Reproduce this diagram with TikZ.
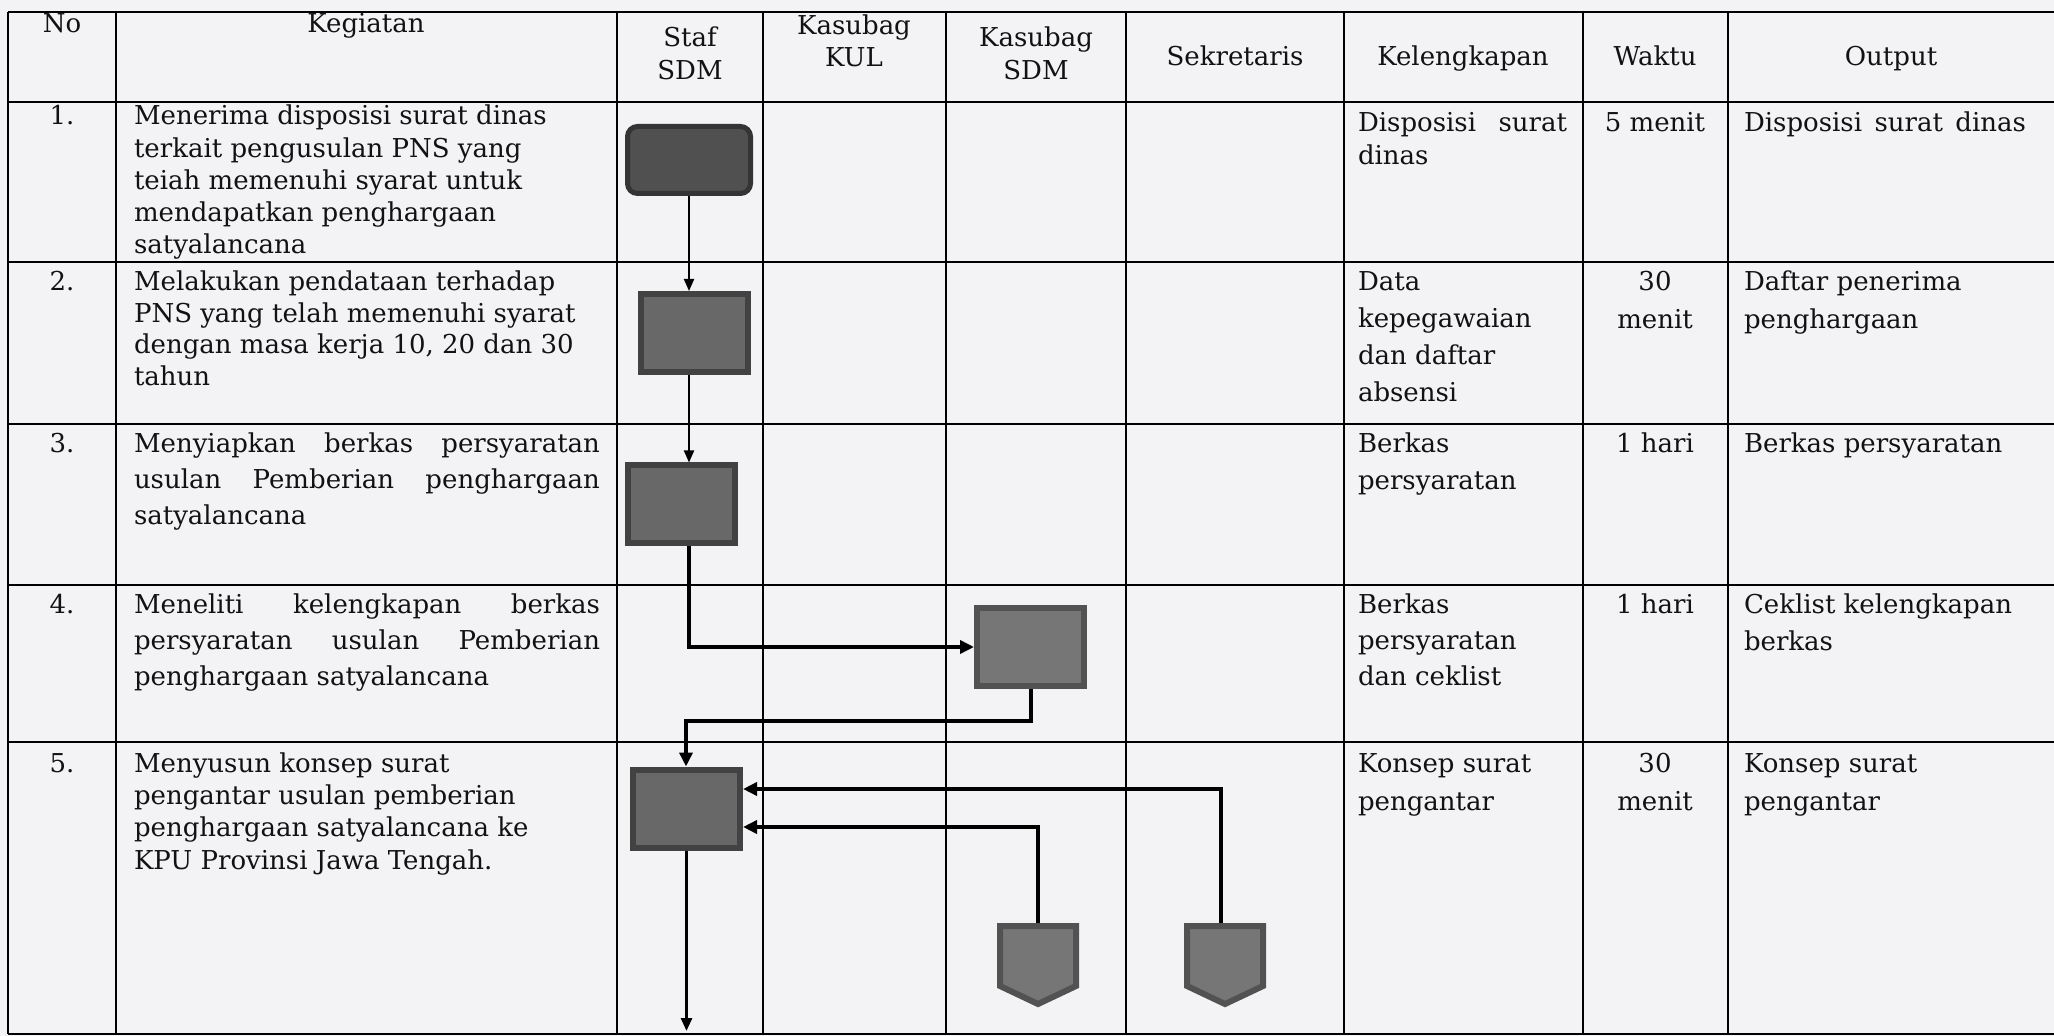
\documentclass[tikz,border=0pt]{standalone}
\usepackage{fontspec}
\setmainfont{DejaVu Serif}
\usetikzlibrary{arrows.meta}
\definecolor{bgcol}{RGB}{243,243,246}
\definecolor{ink}{RGB}{18,18,18}
\definecolor{boxfill}{RGB}{104,104,104}
\definecolor{boxedge}{RGB}{66,66,66}
\definecolor{startfill}{RGB}{80,80,80}
\definecolor{startedge}{RGB}{52,52,52}
\definecolor{lightfill}{RGB}{118,118,118}
\definecolor{lightedge}{RGB}{82,82,82}
\newcommand{\fs}[1]{\fontsize{13pt}{#1}\selectfont}
\newcommand{\st}{\rule{0pt}{12pt}}
\newcommand{\jl}[2]{\makebox[#1][s]{#2}}
\begin{document}
\begin{tikzpicture}[x=0.5pt,y=-0.5pt,text=ink,
  cellL/.style={anchor=north west,inner sep=0pt,outer sep=0pt,align=left,font=\fs{#1}},
  cellC/.style={anchor=north,inner sep=0pt,outer sep=0pt,align=center,font=\fs{#1}},
  vline/.style={line width=0.8pt,draw=black},
  hline/.style={line width=1.1pt,draw=black},
  procbox/.style={draw=boxedge,fill=boxfill,line width=3pt,minimum width=53.5pt,minimum height=39pt,inner sep=0pt},
  lightbox/.style={procbox,draw=lightedge,fill=lightfill},
  startbox/.style={draw=startedge,fill=startfill,line width=2.5pt,rounded corners=5pt,minimum width=61.5pt,minimum height=33.5pt,inner sep=0pt},
  pentnode/.style={minimum width=38pt,minimum height=39pt,inner sep=0pt,outer sep=0pt},
  pentshape/.style={fill=lightfill,draw=lightedge,line width=3pt,line join=miter},
  flow/.style={line width=2pt,-{Triangle[length=7pt,width=6.5pt]}},
  thinflow/.style={line width=1pt,-{Triangle[length=6pt,width=5pt]}},
  midflow/.style={line width=1.4pt,-{Triangle[length=6.5pt,width=5.5pt]}}
]
\fill[bgcol] (0,0) rectangle (2054,1036);
\useasboundingbox (0,0) rectangle (2054,1036);

% table grid
\foreach \xx in {8,116,617,763,946,1126,1344,1583,1728}
  \draw[vline] (\xx,12) -- (\xx,1034);
\foreach \yy in {12,102,262,424,585,742,1034}
  \draw[hline] (8,\yy) -- (2054,\yy);

% header
\node[cellC=16pt] (hNo) at (62,9) {\st No};
\node[cellC=16pt] (hKeg) at (366,9) {\st Kegiatan};
\node[cellC=16.5pt] (hStaf) at (690,23) {\st Staf\\SDM};
\node[cellC=16pt] (hKul) at (854,11) {\st Kasubag\\KUL};
\node[cellC=16.5pt] (hKsdm) at (1036,23) {\st Kasubag\\SDM};
\node[cellC=16pt] (hSek) at (1235,42) {\st Sekretaris};
\node[cellC=16pt] (hKel) at (1463,42) {\st Kelengkapan};
\node[cellC=16pt] (hWak) at (1655,42) {\st Waktu};
\node[cellC=16pt] (hOut) at (1891,42) {\st Output};

% row 1
\node[cellC=16pt] (n1) at (62,101) {\st 1.};
\node[cellL=16.1pt] (k1) at (134,101) {\st Menerima disposisi surat dinas\\terkait pengusulan PNS yang\\teiah memenuhi syarat untuk\\mendapatkan penghargaan\\satyalancana};
\node[cellL=16.5pt] (l1) at (1358,108) {\st\jl{104.5pt}{Disposisi surat}\\dinas};
\node[cellC=16pt] (w1) at (1655,108) {\st 5 menit};
\node[cellL=16pt] (o1) at (1744,108) {\st\jl{141pt}{Disposisi surat dinas}};

% row 2
\node[cellC=16pt] (n2) at (62,267) {\st 2.};
\node[cellL=15.7pt] (k2) at (134,267) {\st Melakukan pendataan terhadap\\PNS yang telah memenuhi syarat\\dengan masa kerja 10, 20 dan 30\\tahun};
\node[cellL=18.5pt] (l2) at (1358,267) {\st Data\\kepegawaian\\dan daftar\\absensi};
\node[cellC=19pt] (w2) at (1655,267) {\st 30\\menit};
\node[cellL=19pt] (o2) at (1744,267) {\st Daftar penerima\\penghargaan};

% row 3
\node[cellC=16pt] (n3) at (62,429) {\st 3.};
\node[cellL=18pt] (k3) at (134,429) {\st\jl{233pt}{Menyiapkan berkas persyaratan}\\\jl{233pt}{usulan Pemberian penghargaan}\\satyalancana};
\node[cellL=18.5pt] (l3) at (1358,429) {\st Berkas\\persyaratan};
\node[cellC=16pt] (w3) at (1655,429) {\st 1 hari};
\node[cellL=16pt] (o3) at (1744,429) {\st Berkas persyaratan};

% row 4
\node[cellC=16pt] (n4) at (62,589) {\st 4.};
\node[cellL=18pt] (k4) at (134,589) {\st\jl{233pt}{Meneliti kelengkapan berkas}\\\jl{233pt}{persyaratan usulan Pemberian}\\penghargaan satyalancana};
\node[cellL=18pt] (l4) at (1358,589) {\st Berkas\\persyaratan\\dan ceklist};
\node[cellC=16pt] (w4) at (1655,589) {\st 1 hari};
\node[cellL=18.5pt] (o4) at (1744,589) {\st Ceklist kelengkapan\\berkas};

% row 5
\node[cellC=16pt] (n5) at (62,748) {\st 5.};
\node[cellL=16.2pt] (k5) at (134,748) {\st Menyusun konsep surat\\pengantar usulan pemberian\\penghargaan satyalancana ke\\KPU Provinsi Jawa Tengah.};
\node[cellL=19pt] (l5) at (1358,748) {\st Konsep surat\\pengantar};
\node[cellC=19pt] (w5) at (1655,748) {\st 30\\menit};
\node[cellL=19pt] (o5) at (1744,748) {\st Konsep surat\\pengantar};

% flow symbols
\node[startbox] (b1) at (689,160) {};
\node[procbox] (b2) at (694.5,333) {};
\node[procbox] (b3) at (681.5,504.5) {};
\node[lightbox] (b4) at (1030.5,647) {};
\node[procbox] (b5) at (686.5,808.5) {};
\node[pentnode] (p1) at (1038,965) {};
\node[pentnode] (p2) at (1225,965) {};
\coordinate (j45) at (686,721);
\coordinate (endpt) at (686,1031);

% connectors
\draw[thinflow] (b1.south) -- (b1.south |- b2.north);
\draw[thinflow] (b1.south |- b2.south) -- (b1.south |- b3.north);
\draw[flow] (b1.south |- b3.south) |- (b4.west);
\draw[flow] (b4.south) |- (j45) -- (j45 |- b5.north);
\draw[flow] ([xshift=-2pt]p2.north) |- ([yshift=9.75pt]b5.east);
\draw[flow] (p1.north) |- ([yshift=-9.25pt]b5.east);
\draw[midflow] (b5.south) -- (b5.south |- endpt);

% off-page connectors drawn over line ends
\filldraw[pentshape] (p1.north west) -- (p1.north east) -- ([yshift=9pt]p1.south east) -- (p1.south) -- ([yshift=9pt]p1.south west) -- cycle;
\filldraw[pentshape] (p2.north west) -- (p2.north east) -- ([yshift=9pt]p2.south east) -- (p2.south) -- ([yshift=9pt]p2.south west) -- cycle;
\end{tikzpicture}
\end{document}
